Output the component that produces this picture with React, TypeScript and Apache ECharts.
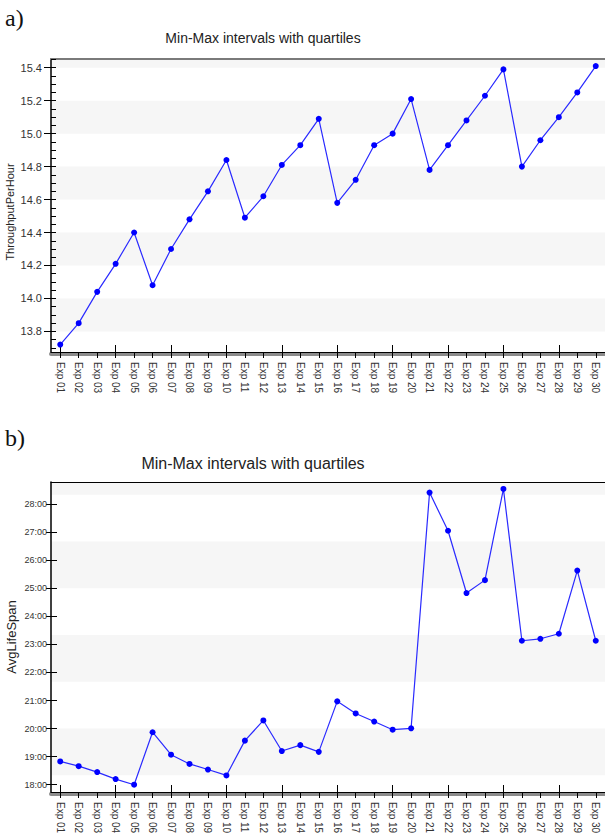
import React, { useEffect, useRef } from 'react';
import * as echarts from 'echarts';

const categories = [
  'Exp 01', 'Exp 02', 'Exp 03', 'Exp 04', 'Exp 05', 'Exp 06', 'Exp 07', 'Exp 08', 'Exp 09', 'Exp 10',
  'Exp 11', 'Exp 12', 'Exp 13', 'Exp 14', 'Exp 15', 'Exp 16', 'Exp 17', 'Exp 18', 'Exp 19', 'Exp 20',
  'Exp 21', 'Exp 22', 'Exp 23', 'Exp 24', 'Exp 25', 'Exp 26', 'Exp 27', 'Exp 28', 'Exp 29', 'Exp 30',
];

// Panel a) ThroughputPerHour
const throughput = [
  13.72, 13.85, 14.04, 14.21, 14.40, 14.08, 14.30, 14.48, 14.65, 14.84,
  14.49, 14.62, 14.81, 14.93, 15.09, 14.58, 14.72, 14.93, 15.00, 15.21,
  14.78, 14.93, 15.08, 15.23, 15.39, 14.80, 14.96, 15.10, 15.25, 15.41,
];

// Panel b) AvgLifeSpan, in hours
const lifeSpanHours = [
  18.83, 18.66, 18.45, 18.20, 18.00, 19.87, 19.07, 18.74, 18.54, 18.33,
  19.57, 20.29, 19.20, 19.41, 19.17, 20.97, 20.54, 20.25, 19.96, 20.01,
  28.41, 27.05, 24.83, 25.29, 28.54, 23.13, 23.20, 23.38, 25.63, 23.13,
];

const A_MIN = 13.675;
const A_MAX = 15.453;
const B_MIN = 17.74;
const B_MAX = 28.787;

// shaded bands (value ranges)
const throughputBands: [number, number][] = [
  [13.8, 14.0], [14.2, 14.4], [14.6, 14.8], [15.0, 15.2], [15.4, A_MAX],
];
const lifeSpanBandsMinutes: [number, number][] = [
  [1100, 1200], [1300, 1400], [1500, 1600], [1700, 1800],
];

const titleText = 'Min-Max intervals with quartiles';
const nameA = 'ThroughputPerHour';
const nameB = 'AvgLifeSpan';
const SANS = 'Liberation Sans, Arial, sans-serif';
const SERIF = 'Liberation Serif, DejaVu Serif, serif';
const BAND = '#f6f6f6';

function fmtHours(v: number) {
  const h = Math.floor(v + 1e-9);
  const m = Math.round((v - h) * 60);
  return `${h}:${String(m).padStart(2, '0')}`;
}

function xAxesFor(gridIndex: number, topColor: string, topWidth: number) {
  return [
    {
      type: 'category', gridIndex, data: categories, position: 'bottom', boundaryGap: true, z: 1, offset: 2,
      axisLine: { show: true, onZero: false, lineStyle: { color: '#8c8c8c', width: 4 } },
      axisTick: { show: false }, axisLabel: { show: false }, splitLine: { show: false },
    },
    {
      type: 'category', gridIndex, data: categories, position: 'bottom', boundaryGap: true, z: 3,
      axisLine: { show: true, onZero: false, lineStyle: { color: '#000', width: 1 } },
      axisTick: { show: true, alignWithLabel: true, length: 6, lineStyle: { color: '#000', width: 1 } },
      axisLabel: { interval: 0, rotate: -90, margin: 10, fontSize: 10, color: '#333', fontFamily: SANS },
      splitLine: { show: false },
    },
    {
      type: 'category', gridIndex, data: categories, position: 'bottom', boundaryGap: true, z: 3,
      axisLine: { show: false, onZero: false },
      axisTick: { show: true, inside: true, alignWithLabel: true, length: 7, lineStyle: { color: '#000', width: 1 } },
      axisLabel: { show: false }, splitLine: { show: false },
    },
    {
      type: 'category', gridIndex, data: categories, position: 'top', boundaryGap: true, z: 3,
      axisLine: { show: true, onZero: false, lineStyle: { color: topColor, width: topWidth } },
      axisTick: { show: false }, axisLabel: { show: false }, splitLine: { show: false },
    },
  ];
}

export default function App() {
  const ref = useRef<HTMLDivElement>(null);

  useEffect(() => {
    if (!ref.current) return;
    const chart = echarts.init(ref.current, undefined, { renderer: 'svg' });

    const lifeBands = lifeSpanBandsMinutes.map(([a, b]) => [a / 60, Math.min(b / 60, B_MAX)]);

    const option: any = {
      animation: false,
      backgroundColor: '#fff',
      graphic: [
        { type: 'text', x: 5, y: 18, style: { text: 'a)', fontSize: 24, fontFamily: SERIF, fill: '#111', align: 'left', verticalAlign: 'middle' } },
        { type: 'text', x: 263, y: 38, style: { text: titleText, fontSize: 14, fontFamily: SANS, fill: '#222', align: 'center', verticalAlign: 'middle' } },
        { type: 'text', x: 5, y: 438, style: { text: 'b)', fontSize: 24, fontFamily: SERIF, fill: '#111', align: 'left', verticalAlign: 'middle' } },
        { type: 'text', x: 253, y: 463, style: { text: titleText, fontSize: 16, fontFamily: SANS, fill: '#222', align: 'center', verticalAlign: 'middle' } },
        { type: 'text', x: 10, y: 212, rotation: Math.PI / 2, style: { text: nameA, fontSize: 11, fontFamily: SANS, fill: '#222', align: 'center', verticalAlign: 'middle' } },
        { type: 'text', x: 11, y: 637, rotation: Math.PI / 2, style: { text: nameB, fontSize: 13, fontFamily: SANS, fill: '#222', align: 'center', verticalAlign: 'middle' } },
      ],
      grid: [
        { left: 51, right: 0, top: 59, height: 293, containLabel: false },
        { left: 51, right: 0, top: 482, height: 310, containLabel: false },
      ],
      xAxis: [...xAxesFor(0, '#7a7a7a', 2), ...xAxesFor(1, '#000', 1)],
      yAxis: [
        {
          type: 'value', gridIndex: 0, position: 'left', min: A_MIN, max: A_MAX, splitNumber: 8, z: 3,
          axisLine: { show: true, onZero: false, lineStyle: { color: '#000', width: 1.5 } },
          axisTick: { show: true, length: 7, lineStyle: { color: '#000' } },
          axisLabel: { showMinLabel: false, showMaxLabel: false, margin: 9, fontSize: 11, color: '#333', fontFamily: SANS, formatter: (v: number) => v.toFixed(1) },
          splitLine: { show: false },
        },
        {
          type: 'value', gridIndex: 0, position: 'left', min: A_MIN, max: A_MAX, splitNumber: 36, z: 3,
          axisLine: { show: false, onZero: false },
          axisTick: { show: true, inside: true, length: 5, lineStyle: { color: '#000' } },
          axisLabel: { show: false }, splitLine: { show: false },
        },
        {
          type: 'value', gridIndex: 1, position: 'left', min: B_MIN, max: B_MAX, splitNumber: 11, z: 3,
          axisLine: { show: true, onZero: false, lineStyle: { color: '#000', width: 1.5 } },
          axisTick: { show: true, length: 5, lineStyle: { color: '#000' } },
          axisLabel: { showMinLabel: false, showMaxLabel: false, margin: 4, fontSize: 9, color: '#333', fontFamily: SANS, formatter: fmtHours },
          splitLine: { show: false },
        },
        {
          type: 'value', gridIndex: 1, position: 'left', min: B_MIN, max: B_MAX, splitNumber: 11, z: 3,
          axisLine: { show: false, onZero: false },
          axisTick: { show: true, inside: true, length: 6, lineStyle: { color: '#000' } },
          axisLabel: { show: false }, splitLine: { show: false },
        },
      ],
      series: [
        {
          type: 'line', xAxisIndex: 1, yAxisIndex: 0, data: [], silent: true,
          markArea: { silent: true, itemStyle: { color: BAND }, data: throughputBands.map(([a, b]) => [{ yAxis: a }, { yAxis: b }]) },
        },
        {
          type: 'line', xAxisIndex: 1, yAxisIndex: 0, data: throughput,
          symbol: 'circle', symbolSize: 6, showSymbol: true,
          itemStyle: { color: '#0000ff' }, lineStyle: { color: '#2a2aff', width: 1.2 },
        },
        {
          type: 'line', xAxisIndex: 5, yAxisIndex: 2, data: [], silent: true,
          markArea: { silent: true, itemStyle: { color: BAND }, data: lifeBands.map(([a, b]) => [{ yAxis: a }, { yAxis: b }]) },
        },
        {
          type: 'line', xAxisIndex: 5, yAxisIndex: 2, data: lifeSpanHours,
          symbol: 'circle', symbolSize: 6, showSymbol: true,
          itemStyle: { color: '#0000ff' }, lineStyle: { color: '#2a2aff', width: 1.2 },
        },
      ],
    };

    chart.setOption(option);
    return () => chart.dispose();
  }, []);

  return (
    <div
      ref={ref}
      style={{ position: 'fixed', left: 0, top: 0, width: 605, height: 838, background: '#fff' }}
    />
  );
}
